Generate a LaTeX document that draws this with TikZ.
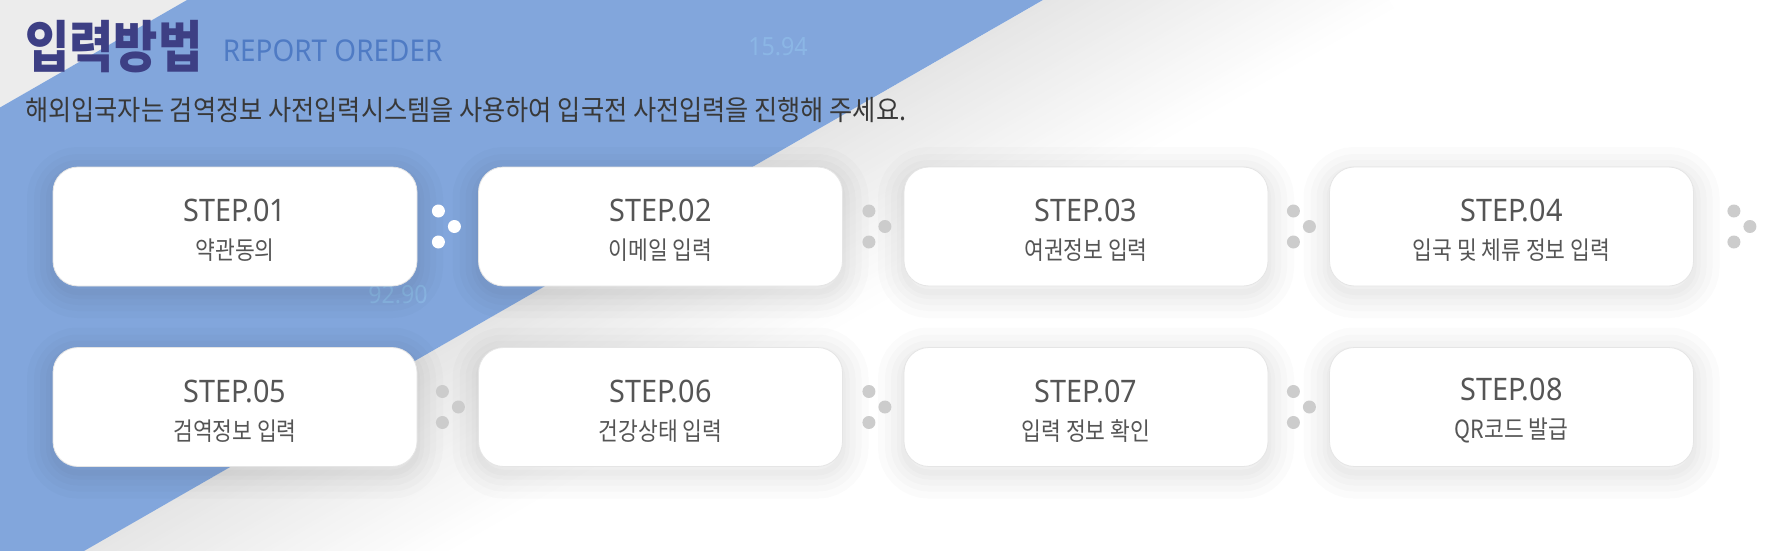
\documentclass[tikz,border=0pt]{standalone}
\usepackage{fontspec}
\setmainfont{Noto Sans CJK KR}[FakeStretch=0.86]
\newfontfamily\latinfont{Noto Sans}[FakeStretch=0.93]

\definecolor{bandblue}{HTML}{82A6DC}
\definecolor{cornergray}{HTML}{ECECEC}
\definecolor{titlenavy}{HTML}{3D3F84}
\definecolor{engblue}{HTML}{4F7BC4}
\definecolor{subgray}{HTML}{383838}
\definecolor{steptext}{HTML}{555555}
\definecolor{dotgray}{HTML}{CCCCCC}
\definecolor{ghostblue}{HTML}{92C2EC}

\tikzset{
  halo/.style={preaction={draw=black, draw opacity=0.014, line width=#1, transform canvas={yshift=-6pt}}},
  stepbox/.style={rounded corners=25pt, minimum width=364pt, minimum height=119pt,
    fill=white, draw=black!10, line width=0.8pt, align=center, text=steptext,
    font=\fontsize{31}{38}\selectfont, halo=52pt, halo=38pt, halo=26pt, halo=14pt, halo=6pt},
  ghost/.style={text=ghostblue, opacity=0.6, font=\latinfont\bfseries\fontsize{25}{25}\selectfont}
}

% three dots after a step box: node, xshift of the left pair, colour
\newcommand{\stepdots}[3]{%
  \fill[#3] ([xshift=#2pt,yshift=15.5pt]#1.east) circle[radius=6.5pt];
  \fill[#3] ([xshift={#2pt+16pt}]#1.east) circle[radius=6.5pt];
  \fill[#3] ([xshift=#2pt,yshift=-15.5pt]#1.east) circle[radius=6.5pt];
}
\newcommand{\steplabel}[2]{{\latinfont\rule{0pt}{30pt}STEP.#1}\\{\fontsize{25}{38}\selectfont #2}}

\begin{document}
\begin{tikzpicture}[x=1pt,y=-1pt]
  \useasboundingbox (0,0) rectangle (1771,551);
  \clip (0,0) rectangle (1771,551);
  \fill[white] (0,0) rectangle (1771,551);

  % soft gray fade right of the band
  \foreach \s in {0,4,...,176}{
    \pgfmathsetmacro\p{10*(1-\s/180)}
    \fill[black!\p, shift={(\s*0.498,\s*0.867)}]
      (1303,-149) -- (-176,700) -- ++(2.49,4.34) -- ++(1479,-849) -- cycle;
  }

  \fill[cornergray] (0,0) -- (187,0) -- (0,107.5) -- cycle;
  \fill[bandblue] (187,0) -- (1043,0) -- (84,551) -- (0,551) -- (0,107.5) -- cycle;

  \node[ghost] (ghostA) at (778,47) {15.94};
  \node[ghost] (ghostB) at (398,295) {92.90};

  % heading
  \node[anchor=base west, inner sep=0, text=titlenavy, font=\bfseries\fontsize{56}{56}\selectfont]
    (title) at (25,67) {입력방법};
  \node[anchor=base west, inner sep=0, text=engblue, font=\latinfont\fontsize{30}{30}\selectfont]
    (titleen) at ([xshift=20pt,yshift=5pt]title.base east) {REPORT OREDER};
  \node[anchor=west, inner sep=0, text=subgray, font=\fontsize{28}{28}\selectfont\addfontfeature{FakeStretch=0.9}]
    (intro) at (25,110) {해외입국자는 검역정보 사전입력시스템을 사용하여 입국전 사전입력을 진행해 주세요.};

  % steps
  \node[stepbox] (step1) at (235,226.5) {\steplabel{01}{약관동의}};
  \node[stepbox] (step2) at (660.5,226.5) {\steplabel{02}{이메일 입력}};
  \node[stepbox] (step3) at (1086,226.5) {\steplabel{03}{여권정보 입력}};
  \node[stepbox] (step4) at (1511.5,226.5) {\steplabel{04}{입국 및 체류 정보 입력}};
  \node[stepbox] (step5) at (235,407) {\steplabel{05}{검역정보 입력}};
  \node[stepbox] (step6) at (660.5,407) {\steplabel{06}{건강상태 입력}};
  \node[stepbox] (step7) at (1086,407) {\steplabel{07}{입력 정보 확인}};
  \node[stepbox] (step8) at (1511.5,407) {\steplabel{08}{QR코드 발급}};

  \stepdots{step1}{21}{white}
  \stepdots{step2}{26}{dotgray}
  \stepdots{step3}{25}{dotgray}
  \stepdots{step4}{40}{dotgray}
  \stepdots{step5}{25}{dotgray}
  \stepdots{step6}{26}{dotgray}
  \stepdots{step7}{25}{dotgray}
\end{tikzpicture}
\end{document}
